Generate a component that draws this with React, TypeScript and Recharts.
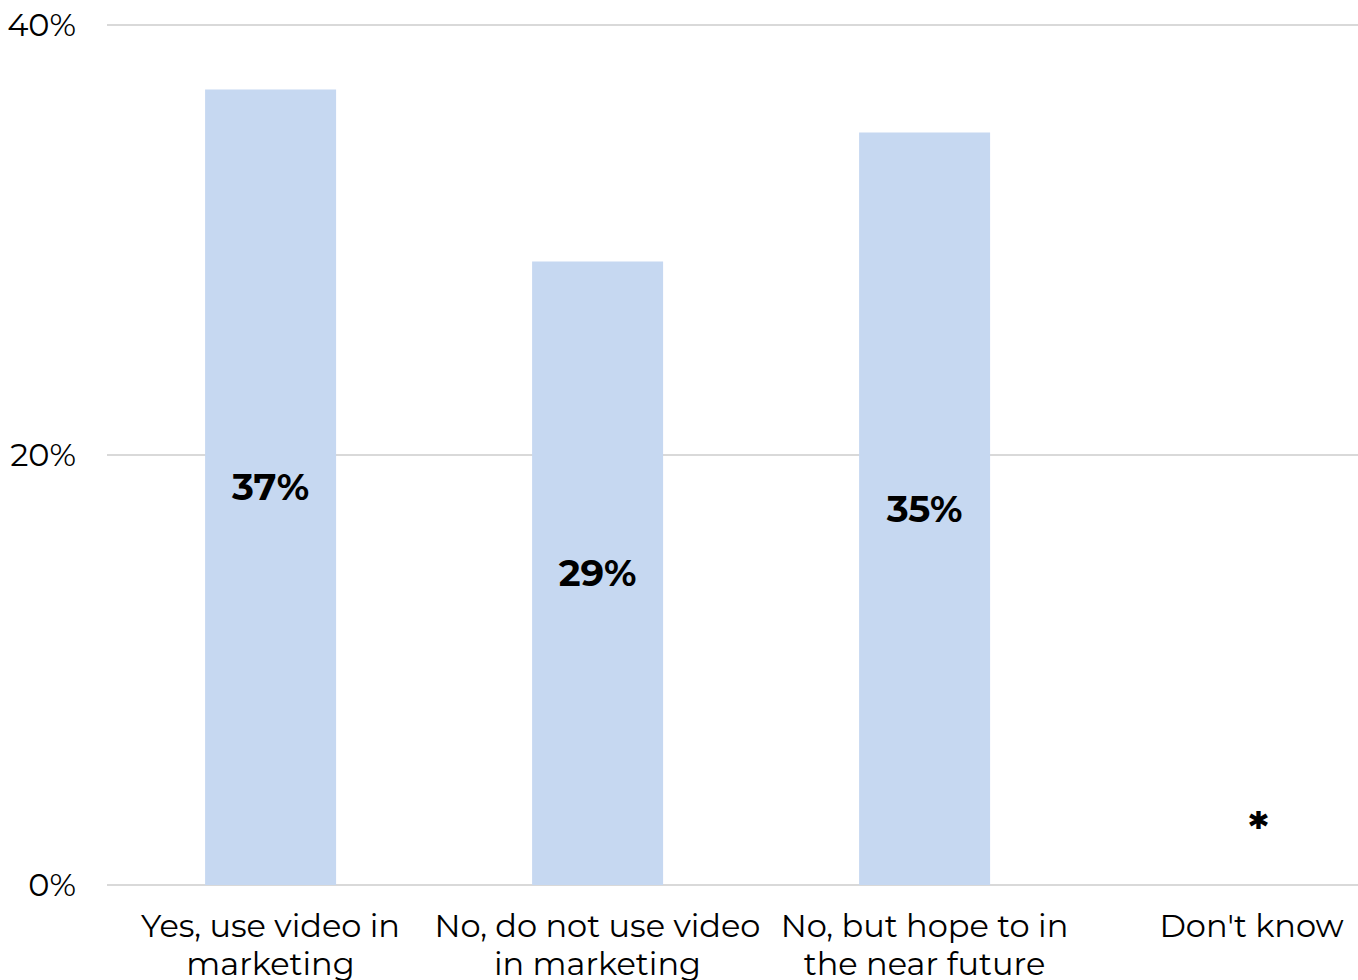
import React from 'react';
import { BarChart, Bar, XAxis, YAxis, CartesianGrid, LabelList, ReferenceDot } from 'recharts';

const categories = ['Yes, use video in\nmarketing', 'No, do not use video\nin marketing', 'No, but hope to in\nthe near future', "Don't know"];
const shares = [37, 29, 35, 0];
const valueLabels = ['37%', '29%', '35%', '*'];
const yTicks = [0, 20, 40];

const data = categories.map((name, i) => ({ name, value: shares[i], label: valueLabels[i] }));

const FONT = "Montserrat, 'DejaVu Sans', sans-serif";

const CategoryTick = (props: any) => {
  const { x, y, payload } = props;
  const lines: string[] = String(payload.value).split('\n');
  return (
    <text x={x} y={y} textAnchor="middle" fill="#000" fontFamily={FONT} fontSize={32}>
      {lines.map((line, i) => (
        <tspan key={i} x={x} dy={i === 0 ? 44 : 38}>{line}</tspan>
      ))}
    </text>
  );
};

const ValueLabel = (props: any) => {
  const { x, y, width, height, value } = props;
  if (!height) return null;
  return (
    <text x={x + width / 2} y={y + height / 2} dy={13} textAnchor="middle" fill="#000" fontFamily={FONT} fontSize={37} fontWeight="bold">
      {value}
    </text>
  );
};

// "Don't know" has no bar, just a marker floated above the baseline
const AsteriskLabel = (props: any) => {
  const { viewBox } = props;
  const cx = viewBox.x + viewBox.width / 2;
  const cy = viewBox.y + viewBox.height / 2;
  return (
    <text x={cx} y={cy} dx={7} dy={-40} textAnchor="middle" fill="#000" fontFamily={FONT} fontSize={46} fontWeight="bold">
      {valueLabels[3]}
    </text>
  );
};

export default function App() {
  return (
    <div style={{ position: 'absolute', left: 0, top: 0, width: 1358, height: 980, overflow: 'hidden', background: '#fff' }}>
      <BarChart
        width={1415}
        height={1010}
        data={data}
        margin={{ top: 25, right: 0, bottom: 0, left: 0 }}
        barCategoryGap="30%"
      >
        <CartesianGrid vertical={false} stroke="#d9d9d9" strokeWidth={2} />
        <XAxis dataKey="name" interval={0} height={125} tickLine={false} axisLine={false} tick={<CategoryTick />} />
        <YAxis
          domain={[0, 40]}
          ticks={yTicks}
          width={107}
          tickLine={false}
          axisLine={false}
          tickMargin={25}
          tickFormatter={(v: number) => `${v}%`}
          tick={{ fill: '#000', fontSize: 32, fontFamily: FONT }}
        />
        <Bar dataKey="value" fill="#c6d8f1" isAnimationActive={false}>
          <LabelList dataKey="label" content={<ValueLabel />} />
        </Bar>
        <ReferenceDot x={categories[3]} y={shares[3]} r={0} stroke="none" fill="none" label={<AsteriskLabel />} />
      </BarChart>
    </div>
  );
}
